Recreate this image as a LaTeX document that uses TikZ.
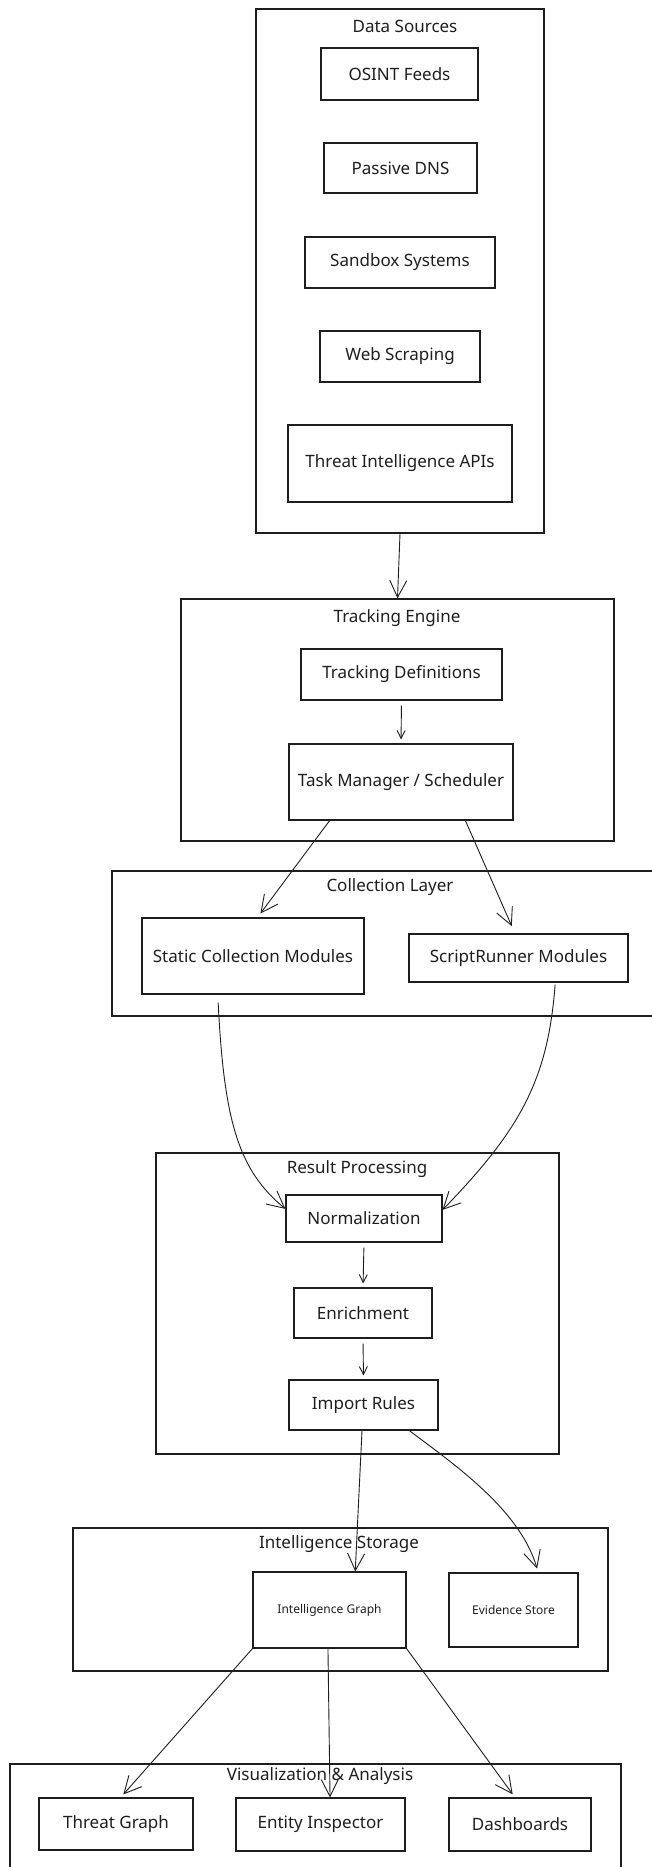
\documentclass[tikz,border=0pt]{standalone}
\usepackage{fontspec}
\setmainfont{Noto Sans}
\usetikzlibrary{arrows.meta,calc}
\definecolor{ink}{HTML}{1E1E1E}
\begin{document}
\begin{tikzpicture}[x=1pt,y=-1pt,
  group/.style={draw=ink, line width=1.3pt, rectangle, inner sep=0pt},
  item/.style={draw=ink, line width=1.1pt, rectangle, inner sep=0pt, text=ink, font=\fontsize{17}{20}\selectfont},
  smallitem/.style={item, font=\fontsize{12}{14}\selectfont},
  grouptitle/.style={text=ink, font=\fontsize{17}{20}\selectfont, inner sep=0pt},
  flow/.style={draw=ink, line width=0.9pt, -{Straight Barb[length=17pt,width=17pt,line width=0.9pt]}},
  shortflow/.style={draw=ink, line width=0.9pt, -{Straight Barb[length=8pt,width=8pt,line width=0.9pt]}}
]
\useasboundingbox (0,0) rectangle (651,1867);

% Data Sources
\node[group, minimum width=288pt, minimum height=524pt] (ds) at (400,271) {};
\node[grouptitle] (dst) at (405,26) {Data Sources};
\node[item, minimum width=157pt, minimum height=52pt] (osint) at (399.5,74) {OSINT Feeds};
\node[item, minimum width=153pt, minimum height=50pt] (pdns) at (400.5,168) {Passive DNS};
\node[item, minimum width=190pt, minimum height=51pt] (sand) at (400,262.5) {Sandbox Systems};
\node[item, minimum width=160pt, minimum height=51pt] (web) at (400,356.5) {Web Scraping};
\node[item, minimum width=224pt, minimum height=77pt] (tiapi) at (400,463.5) {Threat Intelligence APIs};

% Tracking Engine
\node[group, minimum width=433pt, minimum height=242pt] (te) at (397.5,720) {};
\node[grouptitle] (tet) at (397,618) {Tracking Engine};
\node[item, minimum width=201pt, minimum height=51pt] (td) at (401.5,674.5) {Tracking Definitions};
\node[item, minimum width=224pt, minimum height=76pt] (tm) at (401,782) {Task Manager / Scheduler};

% Collection Layer
\node[group, minimum width=556pt, minimum height=145pt] (cl) at (390,943.5) {};
\node[grouptitle] (clt) at (390,887) {Collection Layer};
\node[item, minimum width=222pt, minimum height=76pt] (static) at (253,956) {Static Collection Modules};
\node[item, minimum width=219pt, minimum height=48pt] (script) at (518.5,958) {ScriptRunner Modules};

% Result Processing
\node[group, minimum width=403pt, minimum height=301pt] (rp) at (357.5,1303.5) {};
\node[grouptitle] (rpt) at (357,1169) {Result Processing};
\node[item, minimum width=156pt, minimum height=47pt] (norm) at (364,1218.5) {Normalization};
\node[item, minimum width=138pt, minimum height=50pt] (enrich) at (363,1313) {Enrichment};
\node[item, minimum width=149pt, minimum height=50pt] (import) at (363.5,1405) {Import Rules};

% Intelligence Storage
\node[group, minimum width=535pt, minimum height=143pt] (is) at (340.5,1599.5) {};
\node[grouptitle] (ist) at (339,1544) {Intelligence Storage};
\node[smallitem, minimum width=153pt, minimum height=76pt] (ig) at (329.5,1610) {Intelligence Graph};
\node[smallitem, minimum width=129pt, minimum height=74pt] (es) at (513.5,1610) {Evidence Store};

% Visualization & Analysis
\node[group, minimum width=611pt, minimum height=140pt] (va) at (315.5,1834) {};
\node[grouptitle] (vat) at (320,1776) {Visualization \& Analysis};
\node[item, minimum width=154pt, minimum height=52pt] (tg) at (116,1824) {Threat Graph};
\node[item, minimum width=169pt, minimum height=53pt] (ei) at (320.5,1824.5) {Entity Inspector};
\node[item, minimum width=142pt, minimum height=53pt] (dash) at (520,1824.5) {Dashboards};

% Connectors
\draw[flow] (ds.south) -- (te.north);
\draw[shortflow, shorten <=5pt, shorten >=4pt] (td.south) -- (tm.north);
\draw[flow, shorten >=5pt] ($(tm.south west)!0.183!(tm.south east)$) -- ($(static.north west)!0.52!(static.north east)$);
\draw[flow, shorten >=8pt] ($(tm.south west)!0.786!(tm.south east)$) -- ($(script.north west)!0.484!(script.north east)$);
\draw[flow, shorten <=8pt] ($(static.south west)!0.342!(static.south east)$) .. controls (224,1120) and (238,1170) .. ($(norm.north west)!0.3!(norm.south west)$);
\draw[flow, shorten <=2pt] ($(script.south west)!0.667!(script.south east)$) .. controls (548,1080) and (520,1130) .. ($(norm.north east)!0.32!(norm.south east)$);
\draw[shortflow, shorten <=5pt, shorten >=4pt] (norm.south) -- (enrich.north);
\draw[shortflow, shorten <=5pt, shorten >=4pt] (enrich.south) -- (import.north);
\draw[flow] ($(import.south west)!0.49!(import.south east)$) -- ($(ig.north west)!0.667!(ig.north east)$);
\draw[flow, shorten >=4pt] ($(import.south west)!0.805!(import.south east)$) .. controls (455,1465) and (520,1510) .. ($(es.north west)!0.69!(es.north east)$);
\draw[flow, shorten >=4pt] (ig.south west) -- ($(tg.north west)!0.53!(tg.north east)$);
\draw[flow] ($(ig.south west)!0.49!(ig.south east)$) -- ($(ei.north west)!0.556!(ei.north east)$);
\draw[flow, shorten >=4pt] (ig.south east) -- ($(dash.north west)!0.465!(dash.north east)$);
\end{tikzpicture}
\end{document}
